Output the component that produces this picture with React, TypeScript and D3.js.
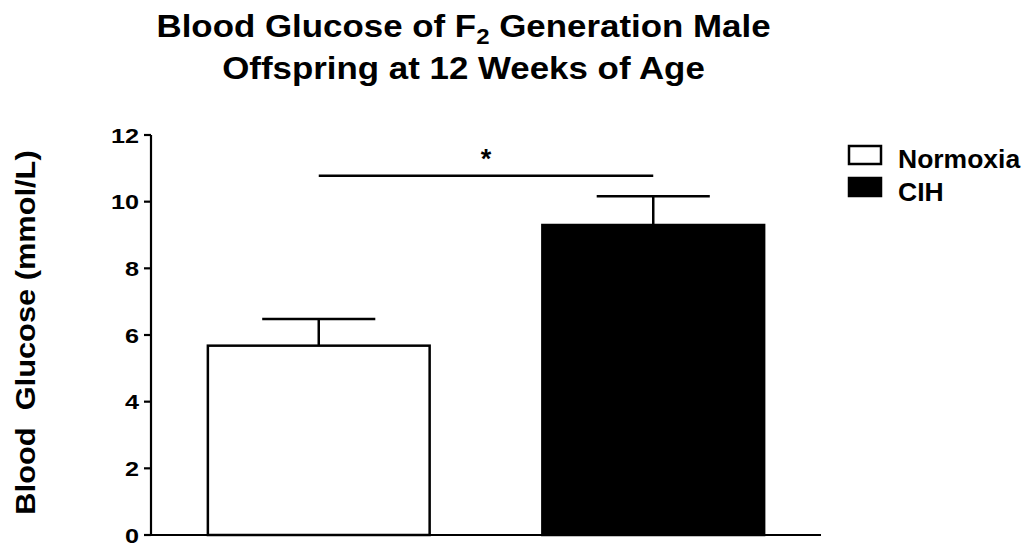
import React from "react";
import * as d3 from "d3";

const categories = ["Normoxia", "CIH"];
const means = [5.68, 9.3];
const errors = [0.8, 0.86];
const fills = ["#ffffff", "#000000"];
const yTicks = [0, 2, 4, 6, 8, 10, 12];
const sigLevel = 10.78;
const sigLabel = "*";

const W = 1024;
const H = 546;
const FONT = "'Liberation Sans', Arial, Helvetica, sans-serif";

export default function App() {
  const y = d3.scaleLinear().domain([0, 12]).range([535, 135]);
  const x = d3
    .scaleBand<string>()
    .domain(categories)
    .range([151, 821])
    .paddingInner(0.337)
    .paddingOuter(0.17);
  const bw = x.bandwidth();
  const capW = bw * 0.51;

  return (
    <svg
      width={W}
      height={H}
      style={{ position: "absolute", left: 0, top: 0, background: "#fff" }}
      fontFamily={FONT}
    >
      <rect x={0} y={0} width={W} height={H} fill="#fff" />
      {/* Title */}
      <g transform="translate(463.5,0) scale(1.09,1)">
        <text x={0} y={37} textAnchor="middle" fontSize={32} fontWeight="bold" fill="#000">
          Blood Glucose of F
          <tspan fontSize={22} dy={7}>2</tspan>
          <tspan dy={-7}> Generation Male</tspan>
        </text>
        <text x={0} y={79} textAnchor="middle" fontSize={32} fontWeight="bold" fill="#000">
          Offspring at 12 Weeks of Age
        </text>
      </g>

      {/* Y axis label */}
      <g transform={`translate(35,332.5) rotate(-90) scale(1.1,1)`}>
        <text
          x={0}
          y={0}
          textAnchor="middle"
          fontSize={28}
          fontWeight="bold"
          fill="#000"
          style={{ whiteSpace: "pre" }}
        >
          {"Blood  Glucose (mmol/L)"}
        </text>
      </g>

      {/* Bars */}
      {categories.map((c, i) => {
        const x0 = x(c)!;
        const cx = x0 + bw / 2;
        const top = y(means[i]);
        const et = y(means[i] + errors[i]);
        return (
          <g key={c}>
            <line x1={cx} x2={cx} y1={top} y2={et} stroke="#000" strokeWidth={2.5} />
            <line x1={cx - capW / 2} x2={cx + capW / 2} y1={et} y2={et} stroke="#000" strokeWidth={2.5} />
            <rect
              x={x0}
              y={top}
              width={bw}
              height={y(0) - top}
              fill={fills[i]}
              stroke="#000"
              strokeWidth={2.5}
            />
          </g>
        );
      })}

      {/* Significance */}
      <line
        x1={x(categories[0])! + bw / 2}
        x2={x(categories[1])! + bw / 2}
        y1={y(sigLevel)}
        y2={y(sigLevel)}
        stroke="#000"
        strokeWidth={2.5}
      />
      <text
        x={(x(categories[0])! + x(categories[1])! + bw) / 2}
        y={y(sigLevel) - 8}
        textAnchor="middle"
        fontSize={27}
        fontWeight="bold"
        fill="#000"
      >
        {sigLabel}
      </text>

      {/* Axes */}
      <line x1={151} x2={151} y1={y(12)} y2={y(0)} stroke="#000" strokeWidth={2.2} />
      <line x1={151} x2={821} y1={y(0)} y2={y(0)} stroke="#000" strokeWidth={2.2} />
      {yTicks.map((t) => (
        <g key={t}>
          <line x1={144} x2={151} y1={y(t)} y2={y(t)} stroke="#000" strokeWidth={2.2} />
          <g transform={`translate(139,${y(t)}) scale(1.2,1)`}>
            <text
              x={0}
              y={0}
              dy="0.36em"
              textAnchor="end"
              fontSize={21}
              fontWeight="bold"
              fill="#000"
            >
              {t}
            </text>
          </g>
        </g>
      ))}

      {/* Legend */}
      {categories.map((c, i) => (
        <g key={c}>
          <rect
            x={849}
            y={146 + i * 32}
            width={32}
            height={18}
            fill={fills[i]}
            stroke="#000"
            strokeWidth={2.5}
          />
          <g transform={`translate(898,${168 + i * 33}) scale(1.06,1)`}>
            <text x={0} y={0} fontSize={25} fontWeight="bold" fill="#000">
              {c}
            </text>
          </g>
        </g>
      ))}
    </svg>
  );
}
